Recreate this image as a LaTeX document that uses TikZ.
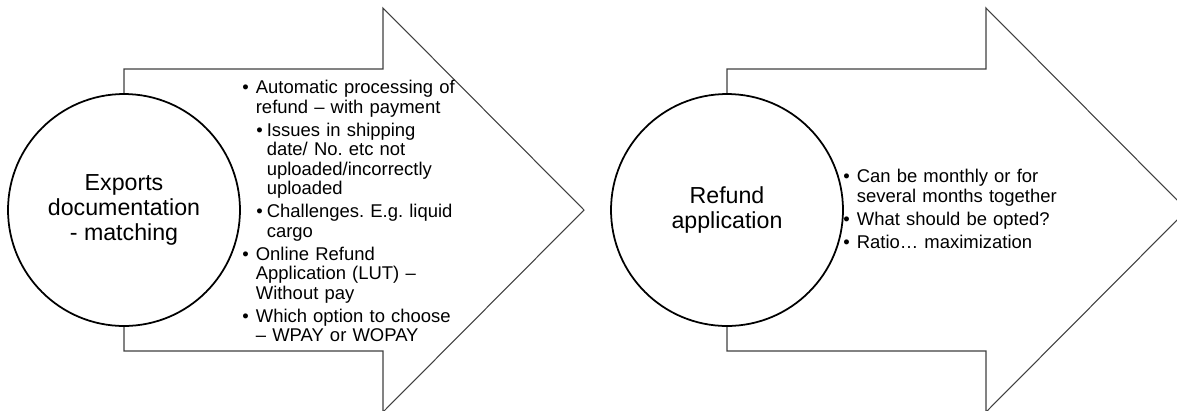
\documentclass[tikz,border=0pt]{standalone}
\usepackage{fontspec}
\setmainfont{Liberation Sans}
\definecolor{arrowgray}{HTML}{404040}
% bullet points, first and second level
\newcommand{\pointA}[1]{\par\leftskip=0pt\hangindent=0.27cm\hangafter=1\noindent\makebox[0.27cm][l]{\textbullet}#1\par}
\newcommand{\pointB}[1]{\par\leftskip=0.28cm\hangindent=0.21cm\hangafter=1\noindent\makebox[0.21cm][l]{\textbullet}#1\par}
\newcommand{\gap}{\vskip 2.3pt}
\tikzset{
	bigarrow/.style={draw=arrowgray, line width=0.6pt, fill=white, line join=miter},
	hub/.style={circle, draw=black, line width=1pt, fill=white, minimum size=4.64cm, inner sep=0pt, align=center, font=\fontsize{13.2}{14.2}\selectfont},
	notes/.style={anchor=north west, inner sep=0pt, text width=5cm, align=left, font=\fontsize{10.5}{11}\selectfont\frenchspacing}
}
\begin{document}
\begin{tikzpicture}[x=0.02cm, y=-0.02cm]
	\clip (0,0) rectangle (1177,410);
	% the two block arrows
	\draw[bigarrow] (124,69) -- (383,69) -- (383,8) -- (584,210) -- (383,412) -- (383,351) -- (124,351) -- cycle;
	\draw[bigarrow] (727,69) -- (986,69) -- (986,8) -- (1187,210) -- (986,412) -- (986,351) -- (727,351) -- cycle;
	% circles
	\node[hub] (exports) at (124,210) {Exports\\documentation\\- matching};
	\node[hub] (refund) at (727,210) {Refund\\application};
	% texts in the arrows
	\node[notes] (exportnotes) at (242,74) {%
		\pointA{Automatic processing of\newline refund -- with payment}\gap
		\pointB{Issues in shipping\newline date/ No. etc not\newline uploaded/incorrectly\newline uploaded}\gap
		\pointB{Challenges. E.g. liquid\newline cargo}\gap
		\pointA{Online Refund\newline Application (LUT) --\newline Without pay}\gap
		\pointA{Which option to choose\newline -- WPAY or WOPAY}};
	\node[notes] (refundnotes) at (843,163) {%
		\pointA{Can be monthly or for\newline several months together}\gap
		\pointA{What should be opted?}\gap
		\pointA{Ratio… maximization}};
\end{tikzpicture}
\end{document}
